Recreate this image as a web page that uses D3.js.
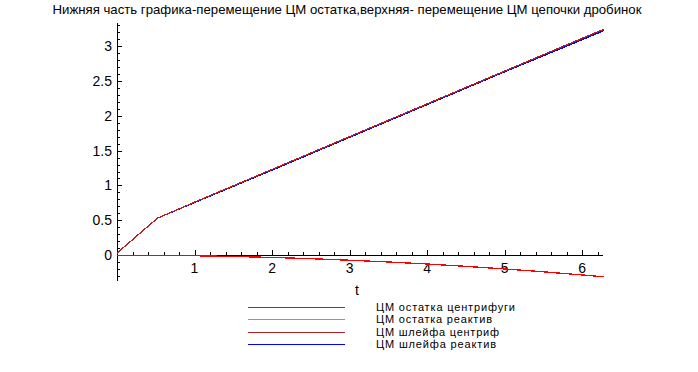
<!DOCTYPE html>
<html>
<head>
<meta charset="utf-8">
<script src="https://cdn.jsdelivr.net/npm/d3@7"></script>
<style>
body { margin: 0; background: #fff; }
text { font-family: "Liberation Sans", Arial, sans-serif; }
</style>
</head>
<body>
<div id="chart"></div>
<script>
// data
var tUpper = [0, 0.52, 1, 2, 3, 4, 5, 6, 6.28];
var yPlumeCentr = [0.03, 0.53, 0.76, 1.23, 1.70, 2.17, 2.64, 3.11, 3.24];
var yPlumeReact = [0.03, 0.53, 0.755, 1.22, 1.69, 2.16, 2.63, 3.09, 3.22];
var tLower = [0, 0.5, 1, 1.5, 2, 2.5, 3, 3.5, 4, 4.5, 5, 5.5, 6, 6.28];
var yRestCentr = [0, -0.002, -0.008, -0.018, -0.032, -0.05, -0.072, -0.097, -0.126, -0.16, -0.197, -0.238, -0.283, -0.31];
var yRestReact = [0, -0.002, -0.008, -0.018, -0.032, -0.05, -0.072, -0.097, -0.126, -0.16, -0.197, -0.238, -0.283, -0.31];
var xTicks = [1, 2, 3, 4, 5, 6];
var yTicks = [0, 0.5, 1, 1.5, 2, 2.5, 3];
var legendNames = ["ЦМ остатка центрифуги", "ЦМ остатка реактив", "ЦМ шлейфа центриф", "ЦМ шлейфа реактив"];
var legendColors = ["#ff0000", "#00ff00", "#b22222", "#0000ff"];
var title = "Нижняя часть графика-перемещение ЦМ остатка,верхняя- перемещение ЦМ цепочки дробинок";

var svgWidth = 698;
var svgHeight = 372;

var svg = d3.select("#chart")
    .append("svg")
    .attr("width", svgWidth)
    .attr("height", svgHeight);

// scales
var x = d3.scaleLinear().domain([0, 6.27]).range([117, 603]);
var y = d3.scaleLinear().domain([-0.37, 3.33]).range([281, 23]);

// title
svg.append("text")
    .attr("x", 347)
    .attr("y", 14)
    .attr("text-anchor", "middle")
    .attr("font-size", 13.2)
    .text(title);

// axes lines
svg.append("line")
    .attr("x1", x(0)).attr("x2", x(6.27))
    .attr("y1", Math.round(y(0)) + 0.5).attr("y2", Math.round(y(0)) + 0.5)
    .attr("stroke", "#000");
svg.append("line")
    .attr("x1", x(0) + 0.5).attr("x2", x(0) + 0.5)
    .attr("y1", y(3.33)).attr("y2", y(-0.37))
    .attr("stroke", "#000");

// x ticks (minor every 0.2)
var xMinor = d3.range(0.2, 6.27, 0.2);
svg.append("g").selectAll("line")
    .data(xMinor)
    .enter()
    .append("line")
    .attr("x1", d => Math.round(x(d)) + 0.5)
    .attr("x2", d => Math.round(x(d)) + 0.5)
    .attr("y1", Math.round(y(0)))
    .attr("y2", d => Math.round(y(0)) - (Math.abs(d - Math.round(d)) < 1e-6 ? 5 : 3))
    .attr("stroke", "#000");

svg.append("g").selectAll("text")
    .data(xTicks)
    .enter()
    .append("text")
    .attr("x", d => x(d))
    .attr("y", y(0) + 18)
    .attr("text-anchor", "middle")
    .attr("font-size", 14)
    .text(d => d);

// y ticks (minor every 0.1)
var yMinor = d3.range(-0.3, 3.31, 0.1);
svg.append("g").selectAll("line")
    .data(yMinor)
    .enter()
    .append("line")
    .attr("x1", x(0))
    .attr("x2", d => x(0) + (Math.abs(d * 2 - Math.round(d * 2)) < 1e-6 ? 5 : 3))
    .attr("y1", d => Math.round(y(d)) + 0.5)
    .attr("y2", d => Math.round(y(d)) + 0.5)
    .attr("stroke", "#000");

svg.append("g").selectAll("text")
    .data(yTicks)
    .enter()
    .append("text")
    .attr("x", x(0) - 5)
    .attr("y", d => y(d) + 5)
    .attr("text-anchor", "end")
    .attr("font-size", 14)
    .text(d => d);

// axis label
svg.append("text")
    .attr("x", 357)
    .attr("y", 295)
    .attr("text-anchor", "middle")
    .attr("font-size", 14)
    .text("t");

// curves
var line = d3.line()
    .x(d => x(d[0]))
    .y(d => y(d[1]));

function drawCurve(ts, ys, color) {
    svg.append("path")
        .datum(ts.map((t, i) => [t, ys[i]]))
        .attr("d", line)
        .attr("fill", "none")
        .attr("stroke", color)
        .attr("stroke-width", 1.3)
        .attr("shape-rendering", "crispEdges");
}

drawCurve(tLower, yRestReact, legendColors[1]);
drawCurve(tLower, yRestCentr, legendColors[0]);
drawCurve(tUpper, yPlumeReact, legendColors[3]);
drawCurve(tUpper, yPlumeCentr, legendColors[2]);

// legend
var legendY = [307, 319, 332, 344];
var legendWidths = [139, 116, 123, 120];
var legend = svg.append("g");
legendNames.forEach((name, i) => {
    legend.append("line")
        .attr("x1", 248).attr("x2", 345)
        .attr("y1", legendY[i] + 0.5).attr("y2", legendY[i] + 0.5)
        .attr("stroke", legendColors[i]);
    legend.append("text")
        .attr("x", 376)
        .attr("y", legendY[i] + 4)
        .attr("font-size", 11)
        .attr("textLength", legendWidths[i])
        .text(name);
});
</script>
</body>
</html>
